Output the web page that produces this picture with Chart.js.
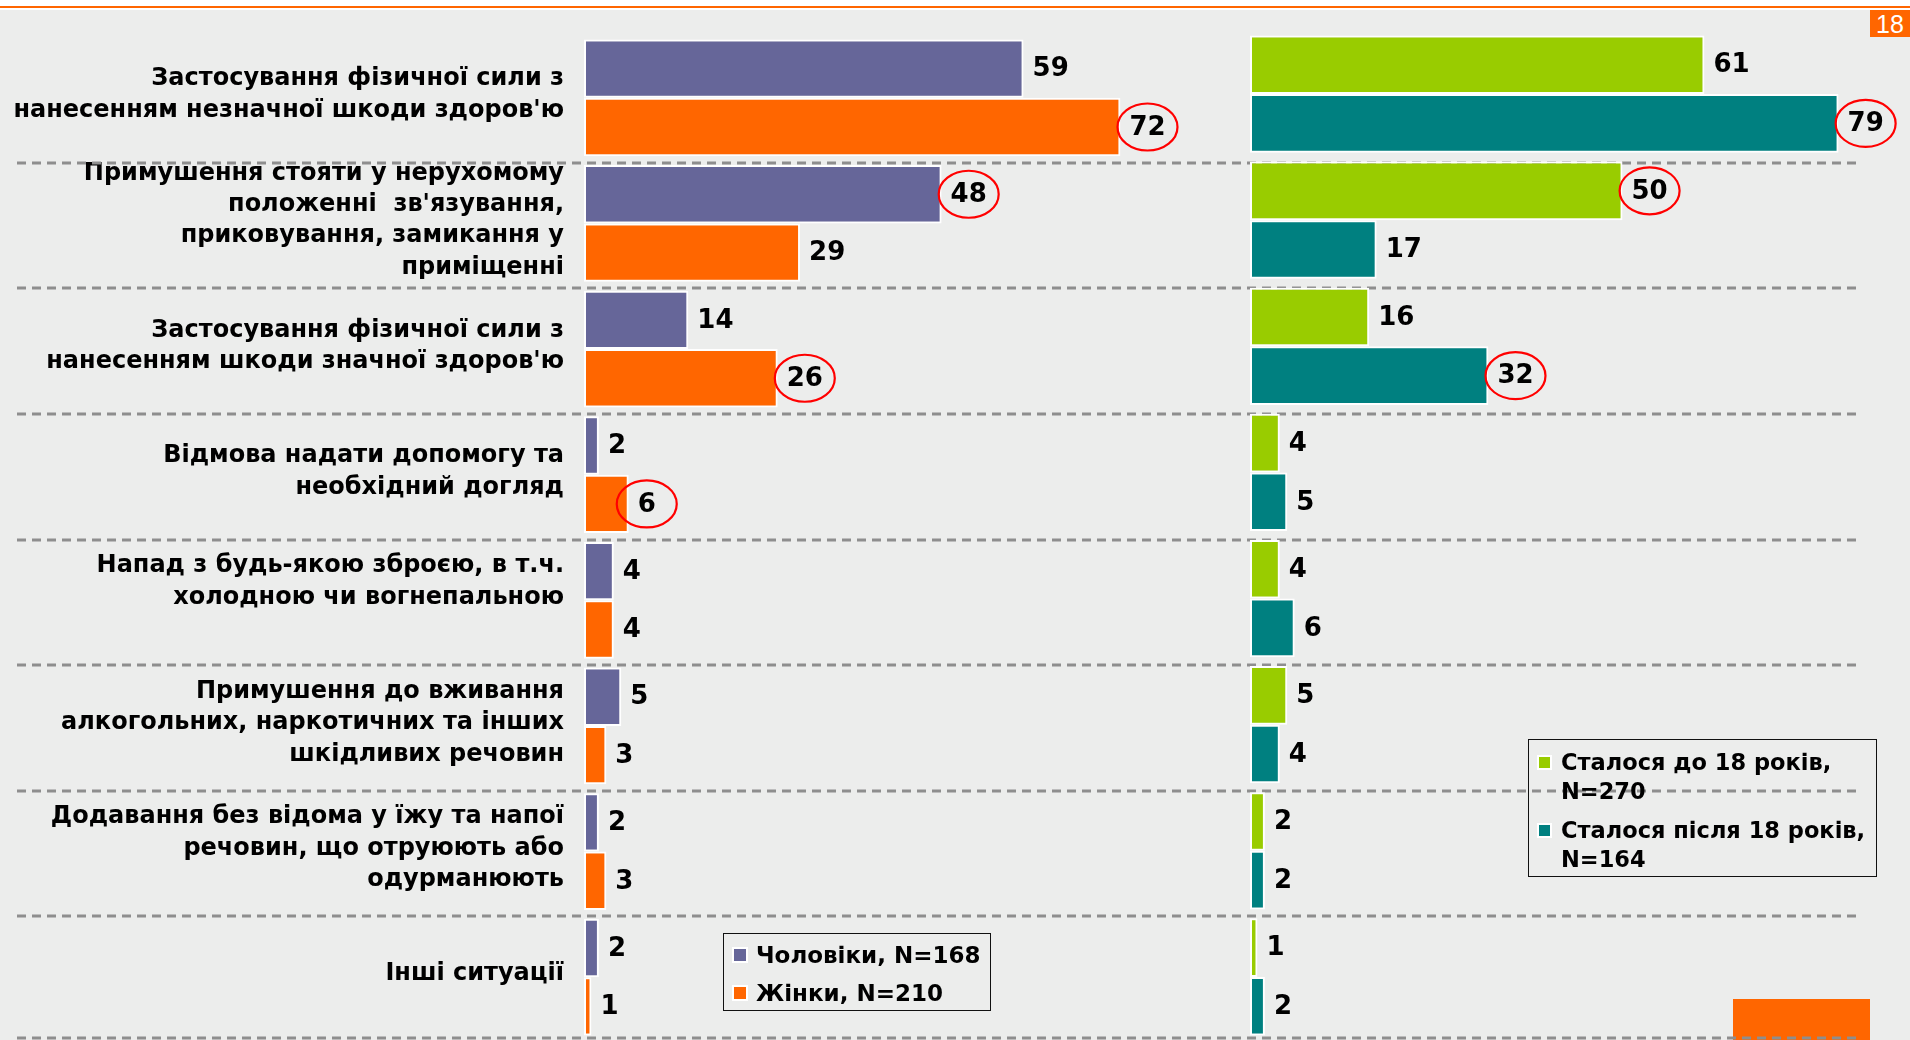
<!DOCTYPE html>
<html>
<head>
<meta charset="utf-8">
<script src="https://cdn.jsdelivr.net/npm/chart.js@4.4.1/dist/chart.umd.min.js"></script>
<style>
  html, body { margin:0; padding:0; width:1910px; height:1040px; overflow:hidden; background:#ffffff; font-family:"DejaVu Sans", Verdana, sans-serif; }
  #bg { position:absolute; left:0; top:10px; width:1910px; height:1030px; background:#ECEDEC; z-index:0; }
  #topline { position:absolute; left:0; top:6px; width:1910px; height:2px; background:#FF6600; z-index:0; }
  #pagenum { position:absolute; left:1870px; top:10px; width:40px; height:27px; background:#FF6600; color:#fff; font-family:"Liberation Sans Narrow","Liberation Sans",sans-serif; font-size:25px; line-height:28px; text-align:center; z-index:0; }
  #cornerbox { position:absolute; left:1733px; top:999px; width:137px; height:41px; background:#FF6600; z-index:0; }
  canvas { position:absolute; left:0; top:0; }
  #leftChart { z-index:1; }
  #rightChart { z-index:2; }
  .legend { position:absolute; box-sizing:border-box; border:1.5px solid #111; z-index:3; font-weight:bold; color:#000; }
  .legend .item { display:flex; align-items:flex-start; }
  .legend .mk { box-sizing:border-box; border:2.5px solid #fff; flex:none; }
  .legend .tx { white-space:pre; }
  #legendLeft { left:723px; top:933px; width:268px; height:78px; padding:2px 0 0 8px; font-size:23px; line-height:38px; }
  #legendLeft .mk { width:16px; height:16px; margin-top:11px; margin-right:8px; }
  #legendRight { left:1528px; top:739px; width:349px; height:138px; padding:8px 0 0 8px; font-size:22.5px; line-height:29px; }
  #legendRight .mk { width:15px; height:15px; margin-top:7px; margin-right:9px; }
  #legendRight .item + .item { margin-top:10px; }
</style>
</head>
<body>
<div id="bg"></div>
<div id="topline"></div>
<div id="pagenum">18</div>
<div id="cornerbox"></div>
<canvas id="leftChart" width="1910" height="1040"></canvas>
<canvas id="rightChart" width="1910" height="1040"></canvas>
<div id="legendLeft" class="legend"></div>
<div id="legendRight" class="legend"></div>
<script>
// ---------- data ----------
const categories = [
  ["Застосування фізичної сили з", "нанесенням незначної шкоди здоров'ю"],
  ["Примушення стояти у нерухомому", "положенні  зв'язування,", "приковування, замикання у", "приміщенні"],
  ["Застосування фізичної сили з", "нанесенням шкоди значної здоров'ю"],
  ["Відмова надати допомогу та", "необхідний догляд"],
  ["Напад з будь-якою зброєю, в т.ч.", "холодною чи вогнепальною", ""],
  ["Примушення до вживання", "алкогольних, наркотичних та інших", "шкідливих речовин"],
  ["Додавання без відома у їжу та напої", "речовин, що отруюють або", "одурманюють"],
  "Інші ситуації"
];
const menValues      = [59, 48, 14, 2, 4, 5, 2, 2];
const womenValues    = [72, 29, 26, 6, 4, 3, 3, 1];
const before18Values = [61, 50, 16, 4, 4, 5, 2, 1];
const after18Values  = [79, 17, 32, 5, 6, 4, 2, 2];

const menCircled      = [0, 1, 0, 0, 0, 0, 0, 0];
const womenCircled    = [1, 0, 1, 1, 0, 0, 0, 0];
const before18Circled = [0, 1, 0, 0, 0, 0, 0, 0];
const after18Circled  = [1, 0, 1, 0, 0, 0, 0, 0];

const menLabel      = "Чоловіки, N=168";
const womenLabel    = "Жінки, N=210";
const before18Label = "Сталося до 18 років,\nN=270";
const after18Label  = "Сталося після 18 років,\nN=164";

const colors = { men:"#666699", women:"#FF6600", before:"#99CC00", after:"#008080" };

// ---------- plugins ----------
Chart.defaults.font.family = '"DejaVu Sans", Verdana, sans-serif';

const valueLabels = {
  id: 'valueLabels',
  afterDatasetsDraw(chart, args, opts) {
    const ctx = chart.ctx;
    ctx.save();
    ctx.font = 'bold 26px "DejaVu Sans", Verdana, sans-serif';
    ctx.fillStyle = '#000';
    ctx.textBaseline = 'middle';
    ctx.textAlign = 'left';
    chart.data.datasets.forEach((ds, di) => {
      const meta = chart.getDatasetMeta(di);
      const circ = (opts.circled && opts.circled[di]) || [];
      meta.data.forEach((bar, i) => {
        const txt = String(ds.data[i]);
        const x = bar.x + 9;
        const y = bar.y + 1;
        ctx.fillText(txt, x, y);
        if (circ[i]) {
          const w = ctx.measureText(txt).width;
          ctx.beginPath();
          ctx.ellipse(x + w / 2, y - 1, 30, 23.5, 0, 0, Math.PI * 2);
          ctx.strokeStyle = '#FF0000';
          ctx.lineWidth = 2.2;
          ctx.stroke();
        }
      });
    });
    ctx.restore();
  }
};

const rowSeparators = {
  id: 'rowSeparators',
  afterDraw(chart, args, opts) {
    const ys = chart.scales.y;
    const n = chart.data.labels.length;
    const step = (ys.bottom - ys.top) / n;
    const ctx = chart.ctx;
    ctx.save();
    ctx.strokeStyle = opts.color;
    ctx.lineWidth = opts.width;
    ctx.setLineDash(opts.dash);
    for (let i = 0; i < n; i++) {
      let py = Math.round(ys.getPixelForValue(i) + step / 2 + opts.offset);
      py = Math.min(py, chart.height - 2);
      ctx.beginPath();
      ctx.moveTo(opts.x0, py);
      ctx.lineTo(opts.x1, py);
      ctx.stroke();
    }
    ctx.restore();
  }
};

function barDataset(label, data, color) {
  return {
    label, data,
    backgroundColor: color,
    borderColor: '#FFFFFF',
    borderWidth: 2,
    borderSkipped: false,
    categoryPercentage: 0.93,
    barPercentage: 1.0
  };
}

function noScalePadding(scale) {
  scale.paddingTop = 0;
  scale.paddingBottom = 0;
}

// ---------- left chart ----------
new Chart(document.getElementById('leftChart'), {
  type: 'bar',
  data: {
    labels: categories,
    datasets: [
      barDataset(menLabel, menValues, colors.men),
      barDataset(womenLabel, womenValues, colors.women)
    ]
  },
  options: {
    indexAxis: 'y',
    responsive: false,
    animation: false,
    devicePixelRatio: 1,
    layout: { padding: { left: 0, right: 655.5, top: 35, bottom: 0 } },
    scales: {
      x: { min: 0, max: 90, display: false },
      y: {
        grid: { display: false, drawTicks: false },
        border: { display: false },
        ticks: {
          color: '#000',
          padding: 20,
          autoSkip: false,
          labelOffset: -3,
          font: { size: 24, weight: 'bold', lineHeight: 1.31 }
        },
        afterFit(scale) { scale.width = 584; noScalePadding(scale); }
      }
    },
    plugins: {
      legend: { display: false },
      tooltip: { enabled: false },
      valueLabels: { circled: [menCircled, womenCircled] },
      rowSeparators: { color: '#8E8E8E', width: 2.8, dash: [9, 6], x0: 17, x1: 1857, offset: 2 }
    }
  },
  plugins: [valueLabels, rowSeparators]
});

// ---------- right chart ----------
new Chart(document.getElementById('rightChart'), {
  type: 'bar',
  data: {
    labels: categories,
    datasets: [
      barDataset(before18Label, before18Values, colors.before),
      barDataset(after18Label, after18Values, colors.after)
    ]
  },
  options: {
    indexAxis: 'y',
    responsive: false,
    animation: false,
    devicePixelRatio: 1,
    layout: { padding: { left: 1250, right: 26.75, top: 31, bottom: 0 } },
    scales: {
      x: { min: 0, max: 85, display: false },
      y: { display: false, afterFit: noScalePadding }
    },
    plugins: {
      legend: { display: false },
      tooltip: { enabled: false },
      valueLabels: { circled: [before18Circled, after18Circled] }
    }
  },
  plugins: [valueLabels]
});

// ---------- legends (HTML, built from dataset labels/colours) ----------
function buildLegend(id, items) {
  const box = document.getElementById(id);
  items.forEach(it => {
    const row = document.createElement('div');
    row.className = 'item';
    const mk = document.createElement('div');
    mk.className = 'mk';
    mk.style.background = it.color;
    const tx = document.createElement('div');
    tx.className = 'tx';
    tx.textContent = it.label;
    row.appendChild(mk);
    row.appendChild(tx);
    box.appendChild(row);
  });
}
buildLegend('legendLeft', [
  { label: menLabel, color: colors.men },
  { label: womenLabel, color: colors.women }
]);
buildLegend('legendRight', [
  { label: before18Label, color: colors.before },
  { label: after18Label, color: colors.after }
]);
</script>
</body>
</html>
